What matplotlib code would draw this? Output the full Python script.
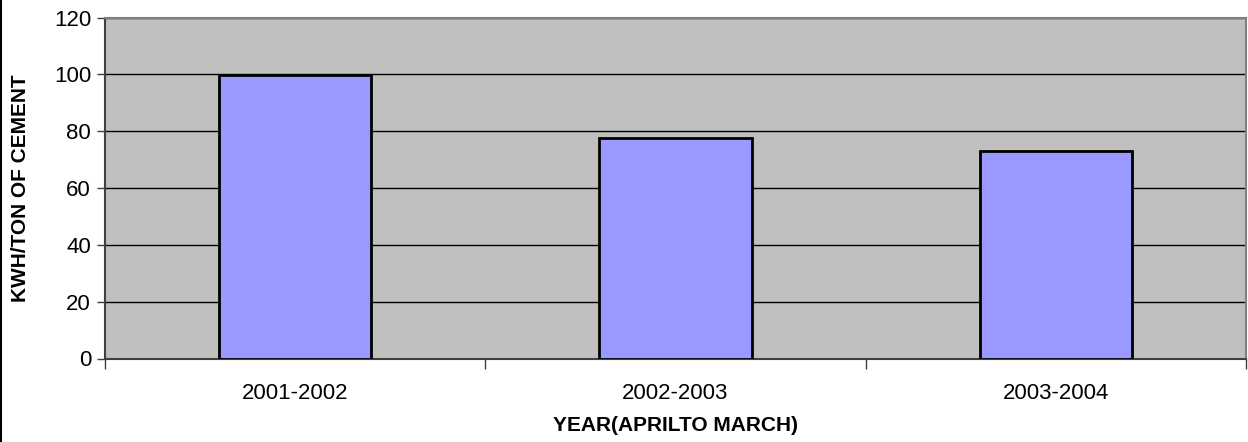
import numpy as np
import matplotlib
matplotlib.use('Agg')
import matplotlib.pyplot as plt
from matplotlib.lines import Line2D

years = ['2001-2002', '2002-2003', '2003-2004']
kwh_per_ton = [99.6, 77.5, 73.0]
yticks = [0, 20, 40, 60, 80, 100, 120]

plt.rcParams['font.family'] = ['Liberation Sans', 'DejaVu Sans']

fig = plt.figure(figsize=(12.48, 4.42), dpi=100)
ax = fig.add_axes([105/1248, 1-358.5/442, 1141/1248, 341/442])

x = np.arange(len(years))
ax.set_facecolor('#C0C0C0')
ax.set_axisbelow(True)
ax.grid(axis='y', color='black', linewidth=1.0)
ax.bar(x, kwh_per_ton, width=0.4, color='#9999FF', edgecolor='black', linewidth=2.0, zorder=3)

ax.set_xlim(-0.5, 2.5)
ax.set_ylim(0, 120)
ax.set_yticks(yticks)
ax.set_xticks(x)
ax.set_xticklabels(years)
ax.set_xticks([-0.5, 0.5, 1.5, 2.5], minor=True)
ax.tick_params(axis='x', which='major', length=0, pad=17.5, labelsize=16)
ax.tick_params(axis='x', which='minor', length=7, width=1, color='#404040')
ax.tick_params(axis='y', length=6, width=1, color='#404040', pad=4, labelsize=16)

for side in ['top', 'right']:
    ax.spines[side].set_color('#808080')
    ax.spines[side].set_linewidth(1.5)
for side in ['left', 'bottom']:
    ax.spines[side].set_color('#404040')
    ax.spines[side].set_linewidth(1.5)

ax.set_xlabel('YEAR(APRILTO MARCH)', fontsize=15, fontweight='bold')
ax.set_ylabel('KWH/TON OF CEMENT', fontsize=15, fontweight='bold')
ax.xaxis.set_label_coords(0.5, -0.17)
ax.yaxis.set_label_coords(-0.066, 0.5)

# left edge of chart frame
fig.add_artist(Line2D([1/1248, 1/1248], [0, 1], color='black', linewidth=1.5, transform=fig.transFigure))

fig.savefig('out.png', dpi=100)
